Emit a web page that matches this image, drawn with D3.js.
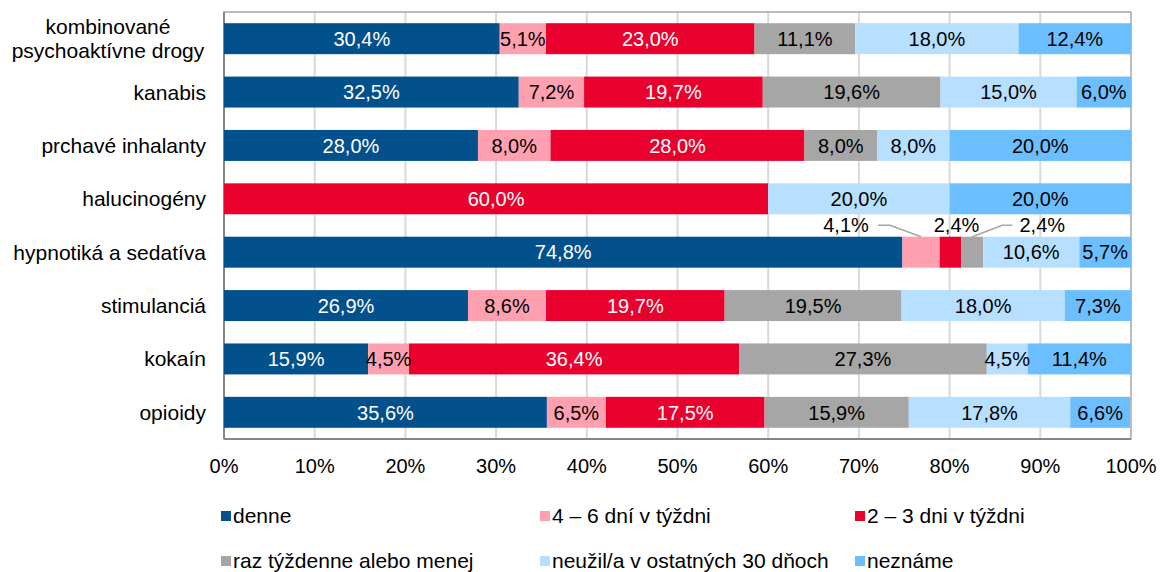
<!DOCTYPE html>
<html>
<head>
<meta charset="utf-8">
<script src="https://cdn.jsdelivr.net/npm/d3@7"></script>
<style>
  body { margin: 0; background: #fff; }
  svg text { font-family: "Liberation Sans", Arial, sans-serif; }
</style>
</head>
<body>
<svg id="chart" width="1160" height="572"></svg>
<script>
var categories = [
  'kombinované\npsychoaktívne drogy',
  'kanabis',
  'prchavé inhalanty',
  'halucinogény',
  'hypnotiká a sedatíva',
  'stimulanciá',
  'kokaín',
  'opioidy'
];
var seriesNames = [
  'denne',
  '4 – 6 dní v týždni',
  '2 – 3 dni v týždni',
  'raz týždenne alebo menej',
  'neužil/a v ostatných 30 dňoch',
  'neznáme'
];
var denne = [30.4, 32.5, 28.0, 0, 74.8, 26.9, 15.9, 35.6];
var dni46 = [5.1, 7.2, 8.0, 0, 4.1, 8.6, 4.5, 6.5];
var dni23 = [23.0, 19.7, 28.0, 60.0, 2.4, 19.7, 36.4, 17.5];
var raz = [11.1, 19.6, 8.0, 0, 2.4, 19.5, 27.3, 15.9];
var neuzil = [18.0, 15.0, 8.0, 20.0, 10.6, 18.0, 4.5, 17.8];
var nezname = [12.4, 6.0, 20.0, 20.0, 5.7, 7.3, 11.4, 6.6];
var tickLabels = ['0%', '10%', '20%', '30%', '40%', '50%', '60%', '70%', '80%', '90%', '100%'];

var colors = ['#02508c', '#ffa0b1', '#ea002c', '#a6a6a6', '#b7dfff', '#6bbfff'];
var textColors = ['#fff', '#000', '#fff', '#000', '#000', '#000'];

// labels of the thin segments moved above the bar (hypnotiká row)
var outside = {
  '4|1': { dx: -75, leader: 'left' },
  '4|2': { dx: 6, leader: null },
  '4|3': { dx: 70, leader: 'right' }
};

var seriesValues = [denne, dni46, dni23, raz, neuzil, nezname];
var rows = categories.map(function(c, i) {
  var row = { category: c };
  seriesNames.forEach(function(s, k) { row[s] = seriesValues[k][i]; });
  return row;
});

var stack = d3.stack().keys(seriesNames);
var series = stack(rows);

var svg = d3.select('#chart');
var plot = { left: 224, right: 1131, top: 12, bottom: 439 };

var x = d3.scaleLinear().domain([0, 100]).range([plot.left, plot.right]);
var y = d3.scaleBand().domain(categories).range([plot.top, plot.bottom])
  .paddingInner(0.42).paddingOuter(0.21);

// gridlines
svg.append('g')
  .selectAll('line')
  .data(d3.range(10, 100, 10))
  .enter()
  .append('line')
  .attr('x1', function(d) { return x(d); })
  .attr('x2', function(d) { return x(d); })
  .attr('y1', plot.top)
  .attr('y2', plot.bottom)
  .style('stroke', '#d9d9d9')
  .style('stroke-width', 2);

// plot frame
svg.append('rect')
  .attr('x', plot.left)
  .attr('y', plot.top)
  .attr('width', plot.right - plot.left)
  .attr('height', plot.bottom - plot.top)
  .style('fill', 'none')
  .style('stroke', '#a6a6a6')
  .style('stroke-width', 1.5);

svg.append('line')
  .attr('x1', plot.left).attr('x2', plot.left)
  .attr('y1', plot.top).attr('y2', plot.bottom)
  .style('stroke', '#868686').style('stroke-width', 2);
svg.append('line')
  .attr('x1', plot.left).attr('x2', plot.right)
  .attr('y1', plot.bottom).attr('y2', plot.bottom)
  .style('stroke', '#868686').style('stroke-width', 2);

// bars
var layers = svg.append('g')
  .selectAll('g.layer')
  .data(series)
  .enter()
  .append('g')
  .attr('class', 'layer')
  .style('fill', function(d, i) { return colors[i]; });

layers.selectAll('rect')
  .data(function(d) { return d; })
  .enter()
  .append('rect')
  .attr('x', function(d) { return x(d[0]); })
  .attr('width', function(d) { return x(d[1]) - x(d[0]); })
  .attr('y', function(d) { return y(d.data.category); })
  .attr('height', y.bandwidth());

// value labels
var fmt = function(v) { return d3.format('.1f')(v).replace('.', ',') + '%'; };

series.forEach(function(s, k) {
  s.forEach(function(d, i) {
    var v = d[1] - d[0];
    if (v <= 0) return;
    var cx = x((d[0] + d[1]) / 2);
    var cy = y(d.data.category) + y.bandwidth() / 2;
    var key = i + '|' + k;
    var col = textColors[k];
    if (outside[key]) {
      var o = outside[key];
      var ly = cy - 27;
      if (o.leader === 'left') {
        svg.append('polyline')
          .attr('points', [[cx + o.dx + 32, ly], [cx + o.dx + 44, ly], [cx, y(d.data.category)]].join(' '))
          .style('fill', 'none').style('stroke', '#a6a6a6').style('stroke-width', 1.5);
      } else if (o.leader === 'right') {
        svg.append('polyline')
          .attr('points', [[cx + o.dx - 30, ly], [cx + o.dx - 40, ly], [cx, y(d.data.category)]].join(' '))
          .style('fill', 'none').style('stroke', '#a6a6a6').style('stroke-width', 1.5);
      }
      cx = cx + o.dx;
      cy = ly;
      col = '#000';
    }
    svg.append('text')
      .attr('x', cx)
      .attr('y', cy)
      .attr('dy', '0.36em')
      .attr('text-anchor', 'middle')
      .style('font-size', '20px')
      .style('fill', col)
      .text(fmt(v));
  });
});

// category labels
var catG = svg.append('g')
  .selectAll('text')
  .data(categories)
  .enter()
  .append('text')
  .attr('text-anchor', 'middle')
  .style('font-size', '21px')
  .style('fill', '#000');

catG.each(function(c) {
  var lines = c.split('\n');
  var t = d3.select(this);
  var cy = y(c) + y.bandwidth() / 2;
  if (lines.length === 1) {
    t.attr('text-anchor', 'end')
      .attr('x', 206)
      .attr('y', cy)
      .attr('dy', '0.36em')
      .text(c);
  } else {
    lines.forEach(function(l, j) {
      t.append('tspan')
        .attr('x', 108)
        .attr('y', cy + (j - (lines.length - 1) / 2) * 24)
        .attr('dy', '0.36em')
        .text(l);
    });
  }
});

// x axis tick labels
svg.append('g')
  .selectAll('text')
  .data(tickLabels)
  .enter()
  .append('text')
  .attr('x', function(d, i) { return x(i * 10); })
  .attr('y', 473)
  .attr('text-anchor', 'middle')
  .style('font-size', '20px')
  .style('fill', '#000')
  .text(function(d) { return d; });

// legend
var legendX = [221, 540, 855];
var legendY = [523, 568];
var legend = svg.append('g')
  .selectAll('g')
  .data(seriesNames)
  .enter()
  .append('g')
  .attr('transform', function(d, i) {
    return 'translate(' + legendX[i % 3] + ',' + legendY[Math.floor(i / 3)] + ')';
  });

legend.append('rect')
  .attr('x', 0)
  .attr('y', -12)
  .attr('width', 10)
  .attr('height', 10)
  .style('fill', function(d, i) { return colors[i]; });

legend.append('text')
  .attr('x', 12)
  .attr('y', 0)
  .style('font-size', '21px')
  .style('fill', '#000')
  .text(function(d) { return d; });
</script>
</body>
</html>
